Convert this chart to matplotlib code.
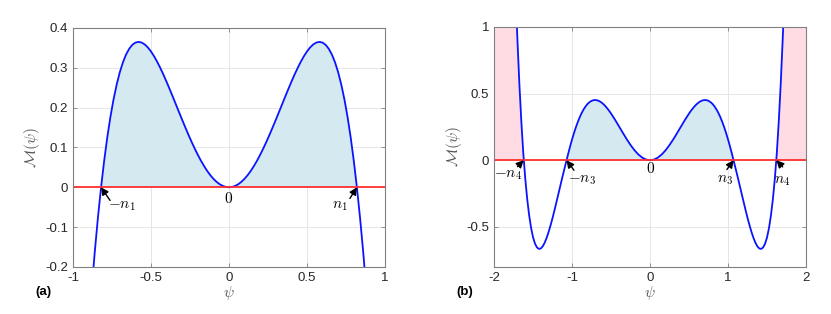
import matplotlib
matplotlib.use("Agg")
import matplotlib.pyplot as plt
import numpy as np

plt.rcParams['font.family'] = ['Liberation Sans', 'DejaVu Sans']
plt.rcParams['mathtext.fontset'] = 'cm'
plt.rcParams['axes.unicode_minus'] = False

# ---- Panel (a) data: M(psi) (symmetric) ----
psi_a_pos = [0.00, 0.02, 0.04, 0.06, 0.08, 0.10, 0.12, 0.14, 0.16, 0.18, 0.20,
             0.22, 0.24, 0.26, 0.28, 0.30, 0.32, 0.34, 0.36, 0.38, 0.40, 0.42,
             0.44, 0.46, 0.48, 0.50, 0.52, 0.54, 0.56, 0.58, 0.60, 0.62, 0.64,
             0.66, 0.68, 0.70, 0.72, 0.74, 0.76, 0.78, 0.80, 0.82, 0.84, 0.86, 0.88]
m_a_pos = [0.0, 0.0009, 0.0035, 0.0078, 0.0138, 0.0214, 0.0306, 0.0413, 0.0535,
           0.0669, 0.0817, 0.0975, 0.1143, 0.1320, 0.1504, 0.1692, 0.1884, 0.2078,
           0.2271, 0.2461, 0.2647, 0.2825, 0.2992, 0.3148, 0.3287, 0.3409, 0.3509,
           0.3584, 0.3632, 0.3648, 0.3630, 0.3573, 0.3473, 0.3328, 0.3133, 0.2883,
           0.2574, 0.2203, 0.1764, 0.1253, 0.0664, -0.0006, -0.0763, -0.1612, -0.2558]
n1 = 0.82

# ---- Panel (b) data ----
psi_b_pos = [0.00, 0.05, 0.10, 0.15, 0.20, 0.25, 0.30, 0.35, 0.40, 0.45, 0.50,
             0.525, 0.55, 0.575, 0.60, 0.625, 0.65, 0.675, 0.70, 0.725, 0.75,
             0.775, 0.80, 0.825, 0.85, 0.875, 0.90, 0.925, 0.95, 0.975, 1.00,
             1.025, 1.05, 1.075, 1.10, 1.125, 1.15, 1.175, 1.20, 1.225, 1.25,
             1.275, 1.30, 1.325, 1.35, 1.375, 1.40, 1.425, 1.45, 1.475, 1.50,
             1.525, 1.55, 1.575, 1.60, 1.625, 1.65, 1.675, 1.70, 1.725, 1.75,
             1.80, 1.90, 2.00]
m_b_pos = [0.0, 0.0049, 0.0196, 0.0433, 0.0753, 0.1142, 0.1585, 0.2065, 0.2559,
           0.3045, 0.3500, 0.3708, 0.3898, 0.4068, 0.4215, 0.4336, 0.4427, 0.4487,
           0.4512, 0.4500, 0.4449, 0.4358, 0.4224, 0.4046, 0.3823, 0.3555, 0.3242,
           0.2883, 0.2481, 0.2036, 0.1550, 0.1027, 0.0469, -0.0113, -0.0700,
           -0.1296, -0.1910, -0.2528, -0.3140, -0.3745, -0.4330, -0.4871, -0.5370,
           -0.5810, -0.6170, -0.6447, -0.6610, -0.6646, -0.6530, -0.6247, -0.5770,
           -0.5068, -0.4120, -0.2895, -0.1360, 0.0538, 0.2900, 0.5708, 0.9000,
           1.2785, 1.7150, 2.7800, 5.8100, 10.40]
n3 = 1.07
n4 = 1.62


def mirror(xp, yp):
    x = np.concatenate([-np.array(xp[:0:-1]), np.array(xp)])
    y = np.concatenate([np.array(yp[:0:-1]), np.array(yp)])
    return x, y


xa, ya = mirror(psi_a_pos, m_a_pos)
xb, yb = mirror(psi_b_pos, m_b_pos)

fig = plt.figure(figsize=(8.31, 3.14), dpi=100)
ax1 = fig.add_axes([0.0878, 0.1497, 0.3755, 0.7615])
ax2 = fig.add_axes([0.5945, 0.1497, 0.3755, 0.7650])

blue_fill = '#d5e9f1'
pink_fill = '#ffdce4'
edge = '#808080'
arrow_kw = dict(arrowstyle='-|>', color='k', lw=1.0, mutation_scale=11,
                shrinkA=0, shrinkB=0)


def style(ax):
    ax.grid(True, color='#e6e6e6', lw=0.7)
    ax.set_axisbelow(True)
    for s in ax.spines.values():
        s.set_color(edge)
        s.set_linewidth(0.8)
    ax.tick_params(direction='in', length=3, width=0.6, colors=edge,
                   labelcolor='#262626', labelsize=9.5, top=True, right=True)
    ax.set_xlabel(r'$\psi$', fontsize=11, color='#555555', labelpad=0)
    ax.set_ylabel(r'$\mathcal{M}(\psi)$', fontsize=11, color='#555555', labelpad=2)


# Panel (a)
ax1.fill_between(xa, 0, ya, where=(ya >= 0) & (np.abs(xa) <= n1 + 0.01),
                 color=blue_fill, lw=0, interpolate=True)
ax1.plot(xa, ya, color='#0a14ff', lw=1.3)
ax1.axhline(0, color='#ff3030', lw=1.3)
ax1.set_xlim(-1, 1)
ax1.set_ylim(-0.2, 0.4)
ax1.set_xticks([-1, -0.5, 0, 0.5, 1])
ax1.set_xticklabels(['-1', '-0.5', '0', '0.5', '1'])
ax1.set_yticks([-0.2, -0.1, 0, 0.1, 0.2, 0.3, 0.4])
ax1.set_yticklabels(['-0.2', '-0.1', '0', '0.1', '0.2', '0.3', '0.4'])
style(ax1)
ax1.annotate('', xy=(-n1, 0), xytext=(-0.762, -0.033), arrowprops=arrow_kw)
ax1.annotate('', xy=(n1, 0), xytext=(0.775, -0.028), arrowprops=arrow_kw)
ax1.text(-0.688, -0.047, r'$-n_1$', fontsize=11, ha='center', va='center')
ax1.text(0.712, -0.047, r'$n_1$', fontsize=11, ha='center', va='center')
ax1.text(0.0, -0.027, r'$0$', fontsize=11, ha='center', va='center')
fig.text(0.042, 0.060, '(a)', fontsize=9.5, fontweight='bold')

# Panel (b)
ax2.fill_between(xb, 0, yb, where=(yb >= 0) & (np.abs(xb) <= n3 + 0.01),
                 color=blue_fill, lw=0, interpolate=True)
ax2.fill_between(xb, 0, yb, where=(yb >= 0) & (np.abs(xb) >= n4 - 0.03),
                 color=pink_fill, lw=0, interpolate=True)
ax2.plot(xb, yb, color='#0a14ff', lw=1.3)
ax2.axhline(0, color='#ff3030', lw=1.3)
ax2.set_xlim(-2, 2)
ax2.set_ylim(-0.8, 1)
ax2.set_xticks([-2, -1, 0, 1, 2])
ax2.set_xticklabels(['-2', '-1', '0', '1', '2'])
ax2.set_yticks([-0.5, 0, 0.5, 1])
ax2.set_yticklabels(['-0.5', '0', '0.5', '1'])
style(ax2)
ax2.annotate('', xy=(-n4, 0), xytext=(-1.70, -0.048), arrowprops=arrow_kw)
ax2.annotate('', xy=(-n3, 0), xytext=(-0.975, -0.075), arrowprops=arrow_kw)
ax2.annotate('', xy=(n3, 0), xytext=(0.985, -0.07), arrowprops=arrow_kw)
ax2.annotate('', xy=(n4, 0), xytext=(1.70, -0.05), arrowprops=arrow_kw)
ax2.text(-1.817, -0.11, r'$-n_4$', fontsize=11, ha='center', va='center')
ax2.text(-0.876, -0.15, r'$-n_3$', fontsize=11, ha='center', va='center')
ax2.text(0.962, -0.15, r'$n_3$', fontsize=11, ha='center', va='center')
ax2.text(1.69, -0.155, r'$n_4$', fontsize=11, ha='center', va='center')
ax2.text(0.0, -0.062, r'$0$', fontsize=11, ha='center', va='center')
fig.text(0.549, 0.060, '(b)', fontsize=9.5, fontweight='bold')

fig.savefig('out.png', dpi=100)
